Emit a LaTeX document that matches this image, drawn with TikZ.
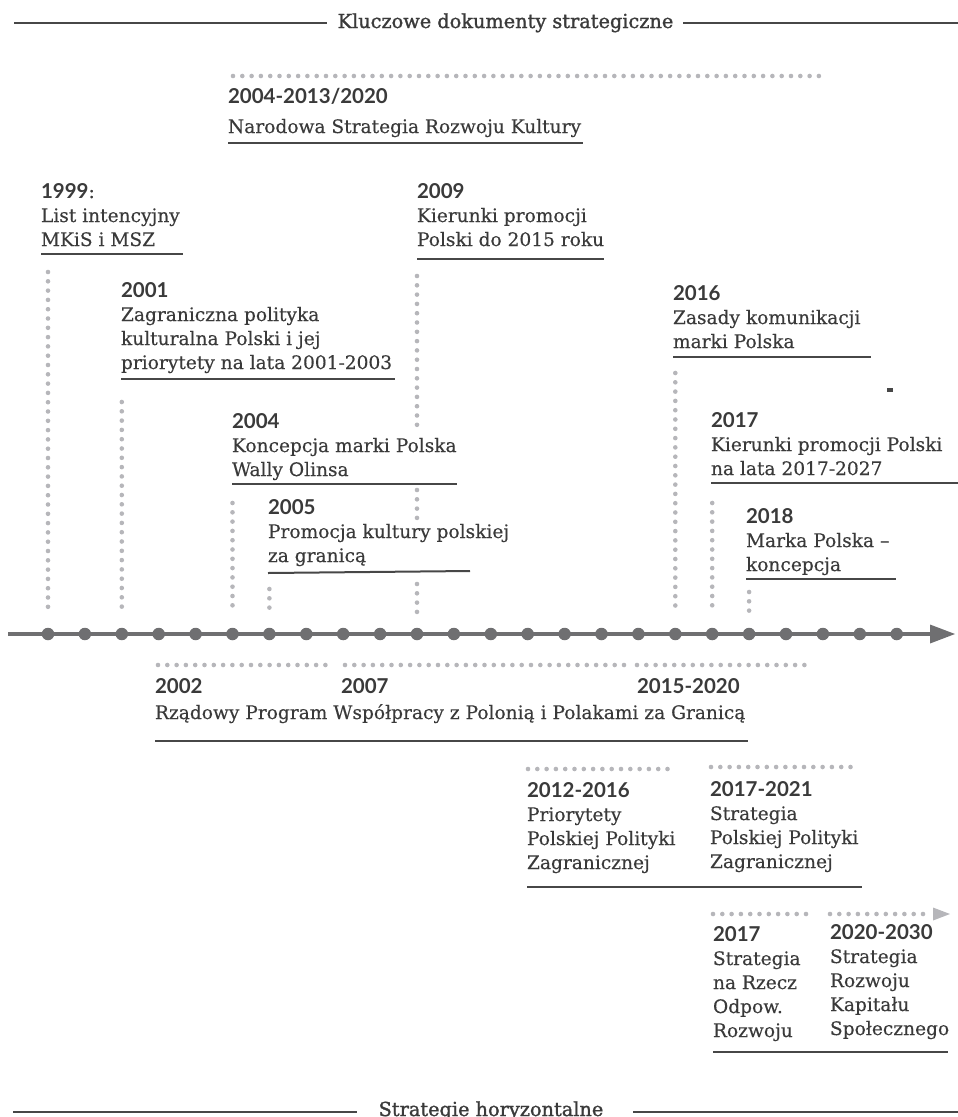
\documentclass[tikz,border=0pt]{standalone}
\usepackage{fontspec}
\setmainfont{DejaVu Serif}[FakeBold=0.35]
\newfontfamily\hdrfont{DejaVu Serif}[BoldFont={DejaVu Serif}, BoldFeatures={FakeBold=1.4}]
\newfontfamily\yrfont{Lato}
\definecolor{txt}{HTML}{3A3A3A}
\definecolor{ulc}{HTML}{474747}
\definecolor{tlc}{HTML}{6F6F71}
\definecolor{dotc}{HTML}{B6B6BA}
\newcommand\bodyfs{\fontsize{18.6}{24}\selectfont}
\newcommand\yr[1]{{\yrfont\bfseries\fontsize{20.5}{24}\selectfont #1}}
\tikzset{
  blk/.style={anchor=base west, inner sep=0pt, outer sep=0pt, text=txt, font=\bodyfs},
  hdr/.style={anchor=base, inner sep=0pt, text=txt, font=\hdrfont\bfseries\fontsize{19.3}{22}\selectfont},
  uline/.style={draw=ulc, line width=2pt},
  hline/.style={draw=ulc, line width=2pt},
  gdot/.style={draw=dotc, line width=4.6pt, line cap=round, dash pattern=on 0pt off 9.3pt},
  tdot/.style={circle, fill=tlc, inner sep=0pt, minimum size=12.5pt},
}
\begin{document}
\begin{tikzpicture}[x=1pt,y=-1pt]
\useasboundingbox (0,0) rectangle (958,1117);
% headers
\node[hdr] (hdr) at (505.5,28) {Kluczowe dokumenty strategiczne};
\draw[hline] (14,23) -- (327,23);
\draw[hline] (683,23) -- (958,23);
\node[hdr] (ftr) at (491,1116) {Strategie horyzontalne};
\draw[hline] (13,1112) -- (357,1112);
\draw[hline] (633,1112) -- (958,1112);

% timeline
\draw[tlc, line width=4pt] (8,634) -- (931,634);
\fill[tlc] (930,624.5) -- (955,634) -- (930,643.5) -- cycle;
\foreach \y in {1999,...,2022} {
  \node[tdot] (d\y) at ({48+36.9*(\y-1999)},634) {};
}

% vertical dotted connectors
\draw[gdot] (d1999 |- 0,272) -- (d1999 |- 0,609);
\draw[gdot] (d2001 |- 0,402) -- (d2001 |- 0,609);
\draw[gdot] (d2004 |- 0,503) -- (d2004 |- 0,608);
\draw[gdot] (d2005 |- 0,589) -- (d2005 |- 0,608);
\draw[gdot] (d2009 |- 0,276) -- (d2009 |- 0,427);
\draw[gdot] (d2009 |- 0,490) -- (d2009 |- 0,519);
\draw[gdot] (d2009 |- 0,584) -- (d2009 |- 0,613);
\draw[gdot] (d2016 |- 0,373) -- (d2016 |- 0,608);
\draw[gdot] (d2017 |- 0,503) -- (d2017 |- 0,609);
\draw[gdot] (d2018 |- 0,592) -- (d2018 |- 0,613);

% horizontal dotted
\draw[gdot] (233,76) -- (823,76);
\draw[gdot] (158,665) -- (334,665);
\draw[gdot] (345,665) -- (627,665);
\draw[gdot] (637,665) -- (810,665);
\draw[gdot] (528,769) -- (673,769);
\draw[gdot] (711,767) -- (855,767);
\draw[gdot] (713,914) -- (810,914);
\draw[gdot] (830,914) -- (928,914);
\fill[dotc] (933,907.5) -- (950,914) -- (933,920.5) -- cycle;

% upper blocks
\node[blk] (n1999) at (41,198) {\begin{tabular}[t]{@{}l@{}}\yr{1999}:\\List intencyjny\\MKiS i MSZ\end{tabular}};
\draw[uline] (41,254) -- (183,254);

\node[blk] (nsrk) at (228,103) {\begin{tabular}[t]{@{}l@{}}\yr{2004-2013/2020}\\[6pt]Narodowa Strategia Rozwoju Kultury\end{tabular}};
\draw[uline] (228,143) -- (583,143);

\node[blk] (n2009) at (417,198) {\begin{tabular}[t]{@{}l@{}}\yr{2009}\\Kierunki promocji\\Polski do 2015 roku\end{tabular}};
\draw[uline] (417,259) -- (604,259);

\node[blk] (n2001) at (121,297) {\begin{tabular}[t]{@{}l@{}}\yr{2001}\\Zagraniczna polityka\\kulturalna Polski i jej\\priorytety na lata 2001-2003\end{tabular}};
\draw[uline] (121,379) -- (395,379);

\node[blk] (n2004) at (232,428) {\begin{tabular}[t]{@{}l@{}}\yr{2004}\\Koncepcja marki Polska\\Wally Olinsa\end{tabular}};
\draw[uline] (232,484) -- (457,484);

\node[blk] (n2005) at (268,514) {\begin{tabular}[t]{@{}l@{}}\yr{2005}\\Promocja kultury polskiej\\za granicą\end{tabular}};
\draw[uline] (268,573) -- (470,571);

\node[blk] (n2016) at (673,300) {\begin{tabular}[t]{@{}l@{}}\yr{2016}\\Zasady komunikacji\\marki Polska\end{tabular}};
\draw[uline] (673,357) -- (871,357);
\fill[ulc] (887,388) rectangle (893,392);

\node[blk] (n2017) at (711,427) {\begin{tabular}[t]{@{}l@{}}\yr{2017}\\Kierunki promocji Polski\\na lata 2017-2027\end{tabular}};
\draw[uline] (711,483) -- (958,483);

\node[blk] (n2018) at (746,523) {\begin{tabular}[t]{@{}l@{}}\yr{2018}\\Marka Polska –\\koncepcja\end{tabular}};
\draw[uline] (746,579) -- (896,579);

% lower blocks
\node[blk] (y2002) at (155,693) {\yr{2002}};
\node[blk] (y2007) at (341,693) {\yr{2007}};
\node[blk] (y2015) at (637,693) {\yr{2015-2020}};
\node[blk] (rzad) at (155,719) {Rządowy Program Współpracy z Polonią i Polakami za Granicą};
\draw[uline] (155,741) -- (748,741);

\node[blk] (n2012) at (527,797) {\begin{tabular}[t]{@{}l@{}}\yr{2012-2016}\\Priorytety\\Polskiej Polityki\\Zagranicznej\end{tabular}};
\node[blk] (n2017b) at (710,796) {\begin{tabular}[t]{@{}l@{}}\yr{2017-2021}\\Strategia\\Polskiej Polityki\\Zagranicznej\end{tabular}};
\draw[uline] (527,887) -- (862,887);

\node[blk] (n2017c) at (713,941) {\begin{tabular}[t]{@{}l@{}}\yr{2017}\\Strategia\\na Rzecz\\Odpow.\\Rozwoju\end{tabular}};
\node[blk] (n2020) at (830,939) {\begin{tabular}[t]{@{}l@{}}\yr{2020-2030}\\Strategia\\Rozwoju\\Kapitału\\Społecznego\end{tabular}};
\draw[uline] (713,1052) -- (948,1052);
\end{tikzpicture}
\end{document}
